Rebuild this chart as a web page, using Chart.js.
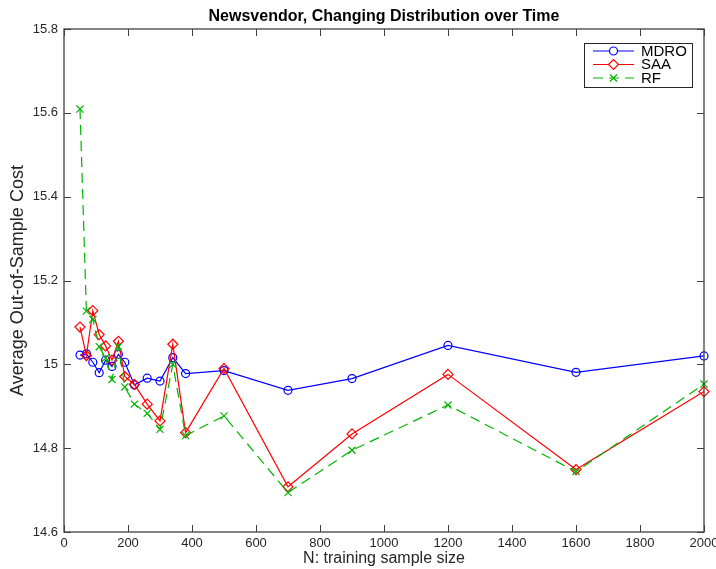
<!DOCTYPE html>
<html>
<head>
<meta charset="utf-8">
<script src="https://cdn.jsdelivr.net/npm/chart.js@4.4.1/dist/chart.umd.min.js"></script>
<style>
  html, body { margin: 0; padding: 0; background: #fff; }
  canvas { display: block; }
</style>
</head>
<body>
<canvas id="c" width="716" height="569"></canvas>
<script>
// training sample sizes N
const sampleSizes = [50, 70, 90, 110, 130, 150, 170, 190, 220, 260, 300, 340, 380, 500, 700, 900, 1200, 1600, 2000];

// average out-of-sample cost per method
const mdroCost = [15.022, 15.025, 15.005, 14.980, 15.010, 14.995, 15.024, 15.005, 14.951, 14.967, 14.960, 15.016, 14.978, 14.985, 14.938, 14.966, 15.045, 14.981, 15.020];
const saaCost  = [15.089, 15.021, 15.128, 15.071, 15.044, 15.010, 15.055, 14.971, 14.952, 14.905, 14.865, 15.048, 14.837, 14.990, 14.708, 14.834, 14.976, 14.749, 14.935];
const rfCost   = [15.609, 15.127, 15.107, 15.042, 15.015, 14.964, 15.042, 14.946, 14.905, 14.883, 14.845, 15.000, 14.830, 14.877, 14.694, 14.795, 14.903, 14.744, 14.953];

const xTicks = [0, 200, 400, 600, 800, 1000, 1200, 1400, 1600, 1800, 2000];
const yTicks = [14.6, 14.8, 15, 15.2, 15.4, 15.6, 15.8];

const FONT = "'Liberation Sans', Arial, Helvetica, sans-serif";
const AXIS_COLOR = '#404040';

function toPoints(values) {
  return sampleSizes.map((n, i) => ({ x: n, y: values[i] }));
}

function series(label, values, color, pointStyle, radius, dash, order) {
  return {
    label: label,
    data: toPoints(values),
    borderColor: color,
    backgroundColor: 'transparent',
    borderWidth: 1.2,
    borderDash: dash,
    pointStyle: pointStyle,
    pointRadius: radius,
    pointBorderColor: color,
    pointBackgroundColor: 'rgba(0,0,0,0)',
    pointBorderWidth: 1.2,
    tension: 0,
    clip: false,
    order: order
  };
}

// box, inward ticks, title and legend, MATLAB style
const decorations = {
  id: 'decorations',
  afterDraw(chart) {
    const ctx = chart.ctx;
    const a = chart.chartArea;
    const sx = chart.scales.x, sy = chart.scales.y;
    const tl = 7;
    ctx.save();
    ctx.strokeStyle = AXIS_COLOR;
    ctx.lineWidth = 1.3;
    ctx.strokeRect(a.left, a.top, a.right - a.left, a.bottom - a.top);
    ctx.lineWidth = 1;
    ctx.beginPath();
    xTicks.forEach(v => {
      const px = Math.round(sx.getPixelForValue(v)) + 0.5;
      ctx.moveTo(px, a.bottom); ctx.lineTo(px, a.bottom - tl);
      ctx.moveTo(px, a.top); ctx.lineTo(px, a.top + tl);
    });
    yTicks.forEach(v => {
      const py = Math.round(sy.getPixelForValue(v)) + 0.5;
      ctx.moveTo(a.left, py); ctx.lineTo(a.left + tl, py);
      ctx.moveTo(a.right, py); ctx.lineTo(a.right - tl, py);
    });
    ctx.stroke();

    // title
    ctx.fillStyle = '#000';
    ctx.font = 'bold 16px ' + FONT;
    ctx.textAlign = 'center';
    ctx.textBaseline = 'middle';
    ctx.fillText('Newsvendor, Changing Distribution over Time', (a.left + a.right) / 2, 17);

    // legend
    const bx = 584, by = 43, bw = 108, bh = 44;
    ctx.fillStyle = '#fff';
    ctx.fillRect(bx, by, bw, bh);
    ctx.strokeStyle = '#262626';
    ctx.lineWidth = 1;
    ctx.strokeRect(bx + 0.5, by + 0.5, bw, bh);
    chart.data.datasets.forEach((ds, i) => {
      const ly = by + 8 + i * 13.5;
      ctx.strokeStyle = ds.borderColor;
      ctx.lineWidth = 1.2;
      ctx.setLineDash(ds.borderDash || []);
      ctx.beginPath();
      ctx.moveTo(593, ly); ctx.lineTo(634, ly);
      ctx.stroke();
      ctx.setLineDash([]);
      ctx.fillStyle = '#fff';
      Chart.helpers.drawPoint(ctx, {
        pointStyle: ds.pointStyle,
        radius: ds.pointRadius,
        borderWidth: 1.2,
        rotation: 0
      }, 613.5, ly);
      ctx.fillStyle = '#000';
      ctx.font = '15px ' + FONT;
      ctx.textAlign = 'left';
      ctx.textBaseline = 'middle';
      ctx.fillText(ds.label, 641, ly + 0.5);
    });
    ctx.restore();
  }
};

new Chart(document.getElementById('c'), {
  type: 'line',
  data: {
    datasets: [
      series('MDRO', mdroCost, '#0000ff', 'circle', 4, [], 2),
      series('SAA', saaCost, '#ff0000', 'rectRot', 5, [], 1),
      series('RF', rfCost, '#00b400', 'crossRot', 5, [10, 6], 0)
    ]
  },
  options: {
    responsive: false,
    animation: false,
    layout: { padding: { top: 29, right: 12, left: 0, bottom: 0 } },
    plugins: {
      legend: { display: false },
      tooltip: { enabled: false },
      title: { display: false }
    },
    scales: {
      x: {
        type: 'linear',
        min: 0,
        max: 2000,
        afterBuildTicks: s => { s.ticks = xTicks.map(v => ({ value: v })); },
        ticks: { font: { family: FONT, size: 13 }, color: '#262626', padding: 4, maxRotation: 0, callback: v => String(v) },
        grid: { display: false, drawTicks: false },
        border: { display: false },
        title: { display: true, text: 'N: training sample size', font: { family: FONT, size: 16 }, color: '#262626', padding: { top: 0, bottom: 1 } },
        afterFit: s => { s.height = 37; s.paddingLeft = 0; s.paddingRight = 0; }
      },
      y: {
        type: 'linear',
        min: 14.6,
        max: 15.8,
        afterBuildTicks: s => { s.ticks = yTicks.map(v => ({ value: v })); },
        ticks: { font: { family: FONT, size: 13 }, color: '#262626', padding: 6, callback: v => String(Math.round(v * 10) / 10) },
        grid: { display: false, drawTicks: false },
        border: { display: false },
        title: { display: true, text: 'Average Out-of-Sample Cost', font: { family: FONT, size: 18 }, color: '#262626', padding: { top: 7, bottom: 0 } },
        afterFit: s => { s.width = 64; s.paddingTop = 0; s.paddingBottom = 0; }
      }
    }
  },
  plugins: [decorations]
});
</script>
</body>
</html>
